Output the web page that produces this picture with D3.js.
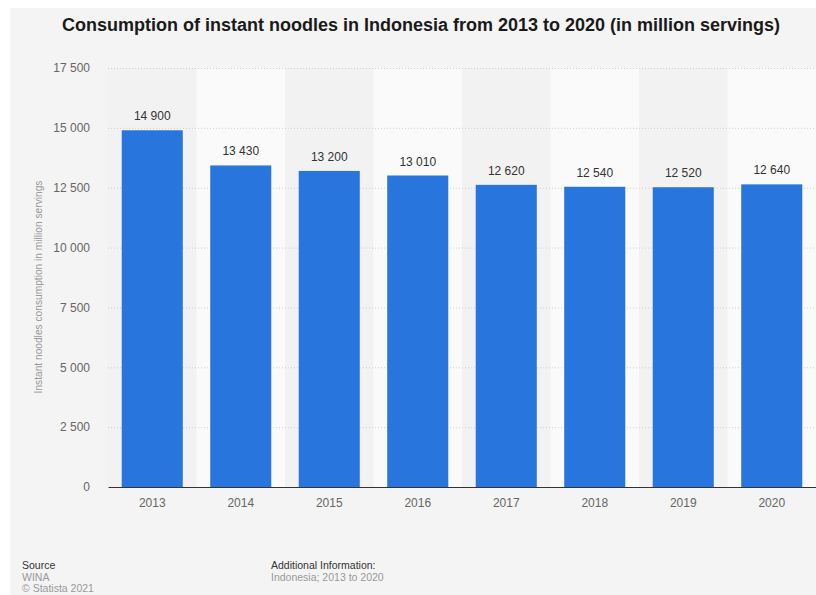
<!DOCTYPE html>
<html>
<head>
<meta charset="utf-8">
<script src="https://cdn.jsdelivr.net/npm/d3@7"></script>
<style>
    body { margin: 0; background: #ffffff; }
    svg { display: block; font-family: "Liberation Sans", Arial, sans-serif; }
</style>
</head>
<body>
<div id="chart"></div>
<script>
// Chart data
const years = ['2013', '2014', '2015', '2016', '2017', '2018', '2019', '2020'];
const servings = [14900, 13430, 13200, 13010, 12620, 12540, 12520, 12640];
const yTicks = [0, 2500, 5000, 7500, 10000, 12500, 15000, 17500];

const width = 816;
const height = 595;
const margin = { top: 68, right: 0, bottom: 108, left: 108 };
const w = width - margin.left - margin.right;
const h = height - margin.top - margin.bottom;

const fmt = d => d3.format(',')(d).replace(/,/g, ' ');

const svg = d3.select('#chart').append('svg')
    .attr('width', width).attr('height', height);

// Panel background
svg.append('rect')
    .attr('x', 10).attr('y', 8)
    .attr('width', width - 10).attr('height', height - 8)
    .attr('fill', '#f4f4f4');

// Title
svg.append('text')
    .attr('x', 421).attr('y', 31)
    .attr('text-anchor', 'middle')
    .style('font-size', '18px')
    .style('font-weight', 'bold')
    .style('fill', '#1a1a1a')
    .text('Consumption of instant noodles in Indonesia from 2013 to 2020 (in million servings)');

const g = svg.append('g')
    .attr('transform', `translate(${margin.left},${margin.top})`);

const xScale = d3.scaleBand()
    .domain(years)
    .range([0, w])
    .paddingInner(0.31)
    .paddingOuter(0.155);

const yScale = d3.scaleLinear().domain([0, 17500]).range([h, 0]);

// Alternating column bands
g.selectAll('.band')
    .data(years)
    .join('rect')
    .attr('x', d => xScale(d) - xScale.step() * xScale.paddingInner() / 2)
    .attr('y', 0)
    .attr('width', xScale.step())
    .attr('height', h)
    .attr('fill', (d, i) => i % 2 === 0 ? '#f2f2f2' : '#fafafa');

// Grid
g.selectAll('.grid-h')
    .data(yTicks.filter(d => d > 0))
    .join('line')
    .attr('x1', 0).attr('x2', w)
    .attr('y1', d => yScale(d) + 0.5).attr('y2', d => yScale(d) + 0.5)
    .attr('stroke', '#cfcfcf')
    .attr('stroke-width', 1)
    .attr('stroke-dasharray', '1,2');

// Bars
g.selectAll('.bar')
    .data(years)
    .join('rect')
    .attr('x', d => xScale(d))
    .attr('y', (d, i) => yScale(servings[i]))
    .attr('width', xScale.bandwidth())
    .attr('height', (d, i) => h - yScale(servings[i]))
    .attr('fill', '#2876dd');

// Value labels
g.selectAll('.value')
    .data(years)
    .join('text')
    .attr('x', d => xScale(d) + xScale.bandwidth() / 2)
    .attr('y', (d, i) => yScale(servings[i]) - 10)
    .attr('text-anchor', 'middle')
    .style('font-size', '12px')
    .style('fill', '#333')
    .text((d, i) => fmt(servings[i]));

// Axes
const xAxis = g.append('g')
    .attr('transform', `translate(0,${h})`)
    .call(d3.axisBottom(xScale).tickSize(0).tickPadding(11));
xAxis.select('.domain').attr('stroke', '#333').attr('stroke-width', 1.2);
xAxis.selectAll('text')
    .style('font-size', '12px')
    .style('fill', '#666')
    .style('font-family', '"Liberation Sans", Arial, sans-serif');

const yAxis = g.append('g')
    .call(d3.axisLeft(yScale).tickValues(yTicks).tickSize(0).tickPadding(18).tickFormat(fmt));
yAxis.select('.domain').remove();
yAxis.selectAll('text')
    .style('font-size', '12px')
    .style('fill', '#666')
    .style('font-family', '"Liberation Sans", Arial, sans-serif');

// Y label
svg.append('text')
    .attr('transform', 'rotate(-90)')
    .attr('x', -287)
    .attr('y', 42)
    .attr('text-anchor', 'middle')
    .style('font-size', '10.2px')
    .style('fill', '#999')
    .text('Instant noodles consumption in million servings');

// Footer
const footer = [
    { x: 22, y: 569, text: 'Source', color: '#333' },
    { x: 22, y: 581, text: 'WINA', color: '#999' },
    { x: 22, y: 592, text: '\u00a9 Statista 2021', color: '#999' },
    { x: 271, y: 569, text: 'Additional Information:', color: '#333' },
    { x: 271, y: 581, text: 'Indonesia; 2013 to 2020', color: '#999' }
];
svg.selectAll('.footer')
    .data(footer)
    .join('text')
    .attr('x', d => d.x).attr('y', d => d.y)
    .style('font-size', '10.5px')
    .style('fill', d => d.color)
    .text(d => d.text);
</script>
</body>
</html>
